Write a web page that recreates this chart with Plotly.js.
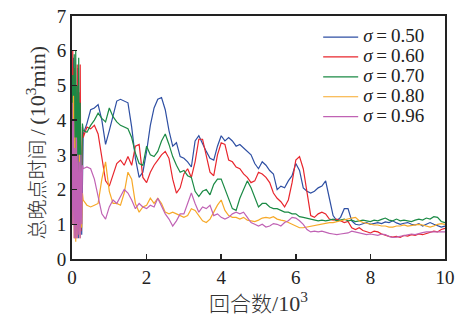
<!DOCTYPE html>
<html>
<head>
<meta charset="utf-8">
<script src="https://cdn.plot.ly/plotly-3.0.1.min.js"></script>
<style>html,body{margin:0;padding:0;background:#fff;}#chart{width:462px;height:320px;}</style>
</head>
<body>
<div id="chart"></div>
<script>
// x values in units of 10^3 episodes
const xEarly = [0,0.02,0.04,0.06,0.08,0.10,0.12,0.14,0.16,0.18,0.20,0.22,0.24,0.26,0.28];
const xMain = [0.3,0.4,0.5,0.6,0.7,0.8,0.9,1.0,1.1,1.2,1.3,1.4,1.5,1.6,1.7,1.8,1.9,2.0,2.1,2.2,2.3,2.4,2.5,2.6,2.7,2.8,2.9,3.0,3.1,3.2,3.3,3.4,3.5,3.6,3.7,3.8,3.9,4.0,4.1,4.2,4.3,4.4,4.5,4.6,4.7,4.8,4.9,5.0,5.1,5.2,5.3,5.4,5.5,5.6,5.7,5.8,5.9,6.0,6.1,6.2,6.3,6.4,6.5,6.6,6.7,6.8,6.9,7.0,7.1,7.2,7.3,7.4,7.5,7.6,7.7,7.8,7.9,8.0,8.1,8.2,8.3,8.4,8.5,8.6,8.7,8.8,8.9,9.0,9.1,9.2,9.3,9.4,9.5,9.6,9.7,9.8,9.9,10.0];

const labels = ["<i>σ</i>\u2009=\u20090.50","<i>σ</i>\u2009=\u20090.60","<i>σ</i>\u2009=\u20090.70","<i>σ</i>\u2009=\u20090.80","<i>σ</i>\u2009=\u20090.96"];
const colors = ["#2e4fa3","#e8262d","#1b8a45","#f7a928","#c062b4"];
const xTitle = '回合数<span style="font-size:22px">/10<sup>3</sup></span>';
const yTitle = '总晚点时间<span style="font-size:22px">\u2009/\u2009(10<sup>3</sup>min)</span>';

// total delay time (10^3 min)
const s050Early = [2.5,4.2,5.8,1.5,5.2,0.6,4.5,1.2,5.5,0.6,4.0,0.9,3.0,0.7,3.3];
const s050 = [3.6,3.9,4.3,4.35,4.45,4.0,3.3,3.7,4.1,4.55,4.6,4.55,4.5,3.8,2.9,2.35,2.5,3.1,3.85,4.35,4.6,4.65,4.3,3.7,3.25,3.35,2.95,2.9,2.8,2.65,3.4,3.55,3.3,3.1,2.9,2.85,3.25,3.55,3.4,3.5,3.4,3.25,3.3,3.2,3.1,3.0,2.75,2.6,2.8,2.7,2.55,2.45,2.0,2.1,2.05,2.25,2.4,2.75,2.55,2.05,1.95,1.9,1.95,2.05,2.1,2.25,1.75,1.25,1.1,1.2,1.45,1.45,1.1,1.0,0.98,1.02,1.05,1.0,1.03,1.05,1.02,1.07,1.05,1.1,1.04,1.0,1.03,1.05,1.0,0.98,1.02,0.95,1.0,1.05,1.0,0.95,0.92,0.95];

const s060Early = [1.2,6.0,2.0,5.5,0.6,5.0,1.0,5.6,0.7,4.8,1.5,5.6,0.8,3.0,3.8];
const s060 = [3.5,3.8,3.75,3.85,3.6,2.9,2.25,2.1,2.4,2.75,2.85,2.7,2.95,2.7,3.25,3.3,2.35,2.2,2.5,2.7,2.85,3.0,3.1,2.9,2.3,1.9,2.05,2.45,2.6,2.35,2.8,3.45,3.45,3.0,2.5,2.4,3.0,3.35,3.3,2.85,2.8,2.65,2.6,2.45,2.35,2.2,2.25,2.5,2.45,2.35,2.2,1.9,1.75,1.65,1.5,1.7,2.2,2.85,2.95,2.6,1.9,1.25,1.2,1.3,1.35,1.3,1.15,1.12,1.15,1.1,1.05,1.08,0.9,0.85,0.9,0.82,0.78,0.75,0.8,0.78,0.72,0.68,0.65,0.63,0.65,0.62,0.68,0.66,0.7,0.68,0.72,0.7,0.74,0.76,0.8,0.78,0.85,0.88];

const s070Early = [4.5,5.3,2.0,5.9,1.0,6.0,0.8,5.0,0.7,5.8,1.2,4.5,0.9,3.2,3.9];
const s070 = [3.7,3.65,3.85,4.0,4.2,4.05,3.95,4.35,4.1,3.95,3.85,3.8,3.75,3.5,3.05,2.75,2.7,3.25,3.0,2.95,3.1,3.4,3.6,3.3,2.95,2.7,2.5,2.55,2.4,2.35,1.95,1.8,1.95,2.0,1.85,2.15,2.3,2.3,2.0,1.7,1.45,1.4,1.75,2.0,2.25,2.05,1.75,1.5,1.6,1.6,1.5,1.45,1.45,1.4,1.35,1.35,1.3,1.3,1.22,1.2,1.18,1.15,1.12,1.1,1.12,1.1,1.12,1.15,1.1,1.12,1.15,1.1,1.12,1.08,1.1,1.12,1.1,1.08,1.12,1.1,1.14,1.18,1.12,1.1,1.15,1.1,1.12,1.1,1.08,1.12,1.15,1.12,1.18,1.15,1.22,1.2,1.08,1.05];

const s080Early = [2.8,1.0,4.7,0.6,3.5,0.5,3.0,0.6,2.5,0.8,3.0,0.6,2.0,0.9,1.9];
const s080 = [1.7,1.55,1.5,1.55,1.6,2.3,2.8,1.95,1.6,1.6,1.55,1.9,2.5,2.3,1.6,1.35,1.5,1.55,1.75,1.6,1.75,1.6,1.35,1.3,1.35,1.3,1.25,1.2,1.25,1.45,1.4,1.25,1.1,1.05,1.15,1.35,1.55,1.7,1.4,1.25,1.2,1.2,1.15,1.2,1.12,1.1,1.08,1.12,1.18,1.2,1.18,1.22,1.15,1.12,1.1,1.05,1.0,0.95,0.9,0.9,0.92,0.95,0.98,1.0,1.0,1.02,1.05,1.05,1.08,1.1,1.12,1.15,1.18,1.2,1.1,1.05,1.02,1.0,0.98,0.98,0.95,0.95,0.92,0.92,0.95,0.95,0.98,0.95,0.97,0.98,1.0,0.98,0.95,0.92,0.95,1.0,1.02,1.0];

const s096Early = [4.5,1.0,4.0,0.6,3.2,0.6,3.5,0.6,3.0,0.7,2.8,0.6,3.0,1.0,2.7];
const s096 = [2.6,2.65,2.6,2.3,1.8,1.3,1.15,1.5,1.7,1.6,1.8,2.0,1.9,1.7,1.45,1.6,1.5,1.45,1.55,1.5,1.75,1.5,1.3,1.15,0.95,1.1,1.3,1.3,1.6,1.9,1.6,1.35,1.5,1.45,1.55,1.25,1.3,1.2,1.15,1.2,1.3,1.35,1.3,1.35,1.2,1.05,1.0,0.95,1.0,0.92,0.95,1.02,1.0,0.95,1.05,1.1,1.2,1.18,1.1,1.0,0.85,0.78,0.8,0.78,0.8,0.76,0.74,0.72,0.7,0.72,0.74,0.75,0.8,0.78,0.75,0.72,0.7,0.72,0.7,0.68,0.72,0.7,0.65,0.62,0.63,0.65,0.68,0.7,0.72,0.7,0.74,0.76,0.78,0.78,0.8,0.78,0.8,0.78];

const yTickVals = [0,1,2,3,4,5,6,7];
const xTickVals = [0,2,4,6,8,10];

const series = [
  [s050Early, s050],
  [s060Early, s060],
  [s070Early, s070],
  [s080Early, s080],
  [s096Early, s096]
];

const traces = series.map((s, i) => ({
  x: xEarly.concat(xMain),
  y: s[0].concat(s[1]),
  type: "scatter",
  mode: "lines",
  name: '<span style="font-size:19px">' + labels[i] + '</span>',
  line: {color: colors[i], width: 1.2}
}));

const serif = "'Liberation Serif', 'Times New Roman', 'Noto Sans CJK SC', serif";

const layout = {
  width: 462, height: 320,
  margin: {l: 72, r: 17, t: 16, b: 61},
  paper_bgcolor: "#fff", plot_bgcolor: "#fff",
  font: {family: serif, color: "#222", size: 19},
  showlegend: true,
  legend: {
    x: 0.66, y: 0.975, xanchor: "left", yanchor: "top",
    bgcolor: "rgba(0,0,0,0)", borderwidth: 0,
    font: {family: serif, size: 13, color: "#222"},
    itemwidth: 35,
    tracegroupgap: 0
  },
  xaxis: {
    range: [0, 10], tickvals: xTickVals, ticktext: xTickVals.map(String),
    ticks: "inside", ticklen: 5, tickwidth: 1.5, tickcolor: "#222",
    showline: true, linewidth: 2, linecolor: "#222", mirror: true,
    showgrid: false, zeroline: false,
    tickfont: {family: serif, size: 19, color: "#222"},
    title: {text: xTitle, font: {family: serif, size: 21, color: "#333", weight: 300}, standoff: 4}
  },
  yaxis: {
    range: [0, 7], tickvals: yTickVals, ticktext: yTickVals.map(String),
    ticks: "inside", ticklen: 5, tickwidth: 1.5, tickcolor: "#222",
    showline: true, linewidth: 2, linecolor: "#222", mirror: true,
    showgrid: false, zeroline: false,
    tickfont: {family: serif, size: 19, color: "#222"}
  },
  annotations: [{
    text: yTitle, textangle: -90, showarrow: false,
    xref: "paper", yref: "paper", x: -0.096, y: 0.48,
    xanchor: "center", yanchor: "middle",
    font: {family: serif, size: 20, color: "#333", weight: 300}
  }]
};

Plotly.newPlot("chart", traces, layout, {displayModeBar: false, staticPlot: true});
</script>
</body>
</html>
